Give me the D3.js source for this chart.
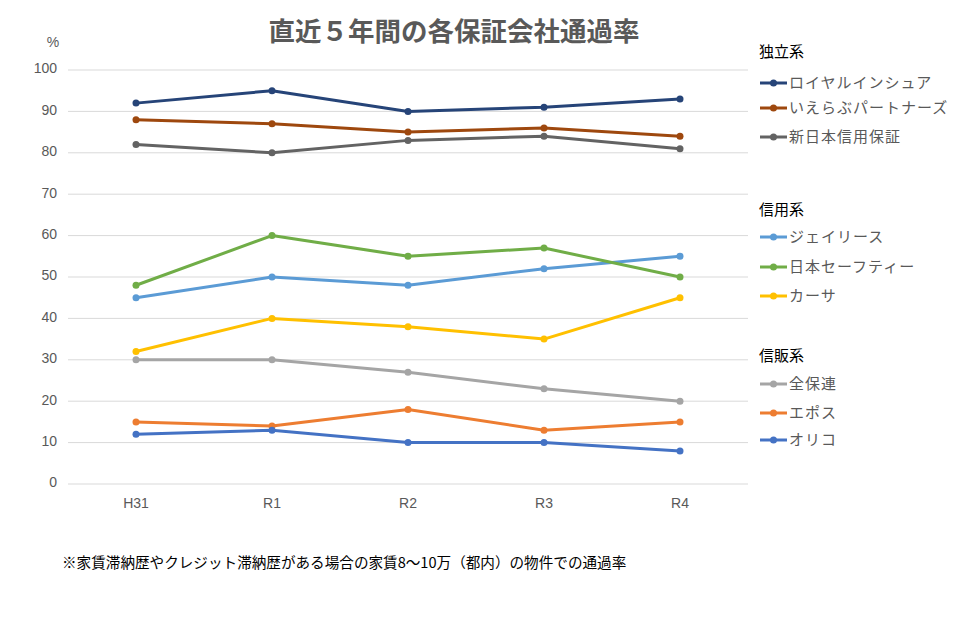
<!DOCTYPE html>
<html><head><meta charset="utf-8">
<script src="https://cdn.jsdelivr.net/npm/d3@7"></script>
<style>body{margin:0;background:#fff;}svg{display:block;font-family:"Noto Sans CJK JP","Noto Sans",sans-serif;}</style>
</head><body>
<svg id="c" width="960" height="630"></svg>
<script>
const categories = ["H31","R1","R2","R3","R4"];
const yTicks = [0,10,20,30,40,50,60,70,80,90,100];
const groups = ["独立系","信用系","信販系"];
const seriesNames = ["ロイヤルインシュア","いえらぶパートナーズ","新日本信用保証","ジェイリース","日本セーフティー","カーサ","全保連","エポス","オリコ"];
const seriesGroup = [0,0,0,1,1,1,2,2,2];
const royal = [92,95,90,91,93];
const ierabu = [88,87,85,86,84];
const shinnihon = [82,80,83,84,81];
const jlease = [45,50,48,52,55];
const nihonSafety = [48,60,55,57,50];
const casa = [32,40,38,35,45];
const zenporen = [30,30,27,23,20];
const epos = [15,14,18,13,15];
const orico = [12,13,10,10,8];
const seriesValues = [royal,ierabu,shinnihon,jlease,nihonSafety,casa,zenporen,epos,orico];
const colors = ["#264478","#9E480E","#636363","#5B9BD5","#70AD47","#FFC000","#A5A5A5","#ED7D31","#4472C4"];

const svg = d3.select("#c");
const x = d3.scaleBand().domain(categories).range([68,748]);
const y = d3.scaleLinear().domain([0,100]).range([484,70]);

svg.append("text").attr("x",454).attr("y",41).attr("text-anchor","middle")
  .attr("font-size",26.5).attr("font-weight","bold").attr("fill","#595959").text("直近５年間の各保証会社通過率");

// grid
svg.append("g").selectAll("line").data(yTicks).join("line")
  .attr("x1",68).attr("x2",748).attr("y1",d=>y(d)).attr("y2",d=>y(d))
  .attr("stroke","#d9d9d9").attr("stroke-width",1);

// y axis labels
const yAxis = d3.axisLeft(y).tickValues(yTicks).tickSize(0).tickPadding(0);
const gy = svg.append("g").attr("transform","translate(57,0)").call(yAxis);
gy.select(".domain").remove();
gy.selectAll("text").attr("font-size",14).attr("fill","#595959").attr("dy","0.2em").attr("font-family","Liberation Sans, Arial, sans-serif");
svg.append("text").attr("x",53).attr("y",47).attr("text-anchor","middle").attr("font-size",14).attr("fill","#595959").attr("font-family","Liberation Sans, Arial, sans-serif").text("%");

// x axis labels
const xAxis = d3.axisBottom(x).tickSize(0).tickPadding(0);
const gx = svg.append("g").attr("transform","translate(0,498)").call(xAxis);
gx.select(".domain").remove();
gx.selectAll("text").attr("font-size",14).attr("fill","#595959").attr("dy","0.71em").attr("font-family","Liberation Sans, Arial, sans-serif");

const cx = c => x(c) + x.bandwidth()/2;
const line = d3.line().x((d,i)=>cx(categories[i])).y(d=>y(d));

seriesValues.forEach((vals,k)=>{
  const g = svg.append("g");
  g.append("path").attr("d",line(vals)).attr("fill","none").attr("stroke",colors[k]).attr("stroke-width",3).attr("stroke-linejoin","round");
  g.selectAll("circle").data(vals).join("circle")
    .attr("cx",(d,i)=>cx(categories[i])).attr("cy",d=>y(d)).attr("r",3.5).attr("fill",colors[k]);
});

// legend
const headY = [52,210,356];
const entryY = [83,108,137,237,267,296,384,413,440];
groups.forEach((g,i)=>{
  svg.append("text").attr("x",759).attr("y",headY[i]).attr("dy","0.35em").attr("font-size",15).attr("fill","#000").text(g);
});
seriesNames.forEach((n,k)=>{
  const lg = svg.append("g");
  lg.append("line").attr("x1",760).attr("x2",787).attr("y1",entryY[k]).attr("y2",entryY[k]).attr("stroke",colors[k]).attr("stroke-width",3);
  lg.append("circle").attr("cx",773.5).attr("cy",entryY[k]).attr("r",3.5).attr("fill",colors[k]);
  lg.append("text").attr("x",789).attr("y",entryY[k]).attr("dy","0.35em").attr("font-size",15).attr("letter-spacing",1).attr("fill","#595959").text(n);
});

svg.append("text").attr("x",62).attr("y",563).attr("dy","0.35em").attr("font-size",14.6).attr("fill","#000")
  .text("※家賃滞納歴やクレジット滞納歴がある場合の家賃8〜10万（都内）の物件での通過率");
</script>
</body></html>
